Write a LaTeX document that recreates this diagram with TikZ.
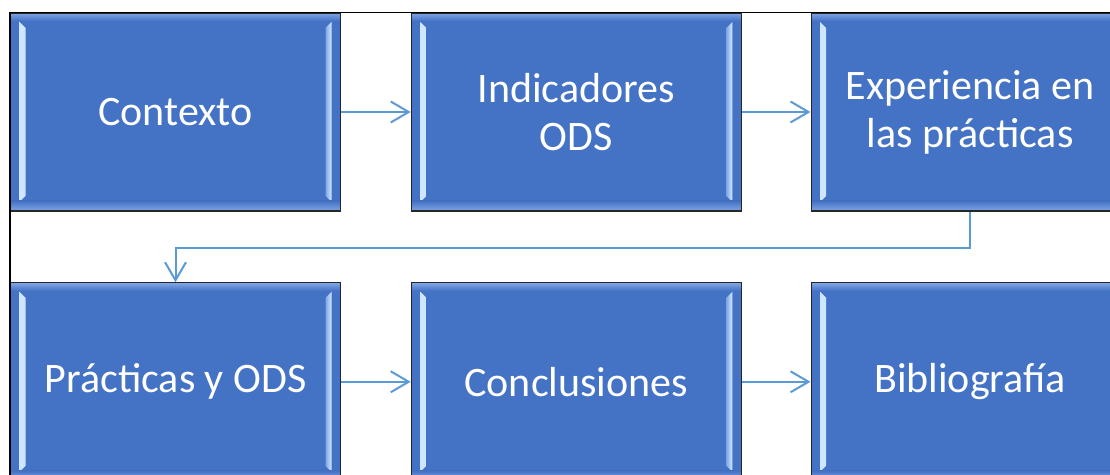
\documentclass[tikz,border=0pt]{standalone}
\usepackage{fontspec}
\setmainfont{Carlito}
\usetikzlibrary{positioning, arrows.meta, calc}
\definecolor{boxblue}{HTML}{4472C4}
\definecolor{linkblue}{HTML}{5B9BD5}
\definecolor{bevellight}{HTML}{D2E8FF}
\definecolor{bevelmid}{HTML}{7FA6E6}

\begin{document}
\begin{tikzpicture}[
  basic/.style  = {draw=black!85, line width=0.6pt, fill=boxblue, text=white,
                   minimum width=165pt, minimum height=99pt, align=center,
                   font=\fontsize{21}{24}\selectfont, inner sep=0pt, rectangle,
                   path picture={
                     % bevel strips, left and right
                     \shade[left color=bevellight, right color=bevelmid]
                       ([shift={(4.5pt,-4.5pt)}]path picture bounding box.north west)
                       -- ([shift={(7.5pt,-7.5pt)}]path picture bounding box.north west)
                       -- ([shift={(7.5pt,7.5pt)}]path picture bounding box.south west)
                       -- ([shift={(4.5pt,4.5pt)}]path picture bounding box.south west) -- cycle;
                     \shade[left color=bevelmid, right color=bevellight]
                       ([shift={(-4.5pt,-4.5pt)}]path picture bounding box.north east)
                       -- ([shift={(-7.5pt,-7.5pt)}]path picture bounding box.north east)
                       -- ([shift={(-7.5pt,7.5pt)}]path picture bounding box.south east)
                       -- ([shift={(-4.5pt,4.5pt)}]path picture bounding box.south east) -- cycle;
                     % top and bottom edges
                     \shade[top color=bevelmid, bottom color=boxblue]
                       (path picture bounding box.north west)
                       rectangle ([shift={(0,-4pt)}]path picture bounding box.north east);
                     \shade[top color=boxblue, bottom color=bevelmid]
                       ([shift={(0,5pt)}]path picture bounding box.south west)
                       rectangle (path picture bounding box.south east);
                   }},
  narrow/.style = {basic, minimum width=159pt},
  link/.style   = {draw=linkblue, line width=1pt, -{Straight Barb[length=9pt,width=10.5pt]}},
  frame/.style  = {draw=black, line width=0.8pt}]

\useasboundingbox (0,0) rectangle (555pt,-237.5pt);
\clip (0,0) rectangle (555pt,-237.5pt);

% first row
\node[basic] (c1) at (87.75pt,-56pt) {Contexto};
\node[basic, right=34.8pt of c1] (c2) {Indicadores\\ODS};
\node[narrow, right=34.3pt of c2] (c3) {Experiencia en\\las prácticas};

% second row
\node[basic, below=35.3pt of c1] (c4) {Prácticas y ODS};
\node[basic, right=34.8pt of c4] (c5) {Conclusiones};
\node[narrow, right=34.3pt of c5] (c6) {Bibliografía};

% arrows along each row
\foreach \from/\to in {c1/c2, c2/c3, c4/c5, c5/c6}
  \draw[link] (\from) -- (\to);

% from the first row down to the second
\draw[link] (c3.south) -- ++(0,-18pt) -| (c4.north);

% outer frame
\draw[frame] (c1.north west) -- ++(600pt,0);
\draw[frame] (c1.north west) -- ++(0,-300pt);

\end{tikzpicture}
\end{document}
